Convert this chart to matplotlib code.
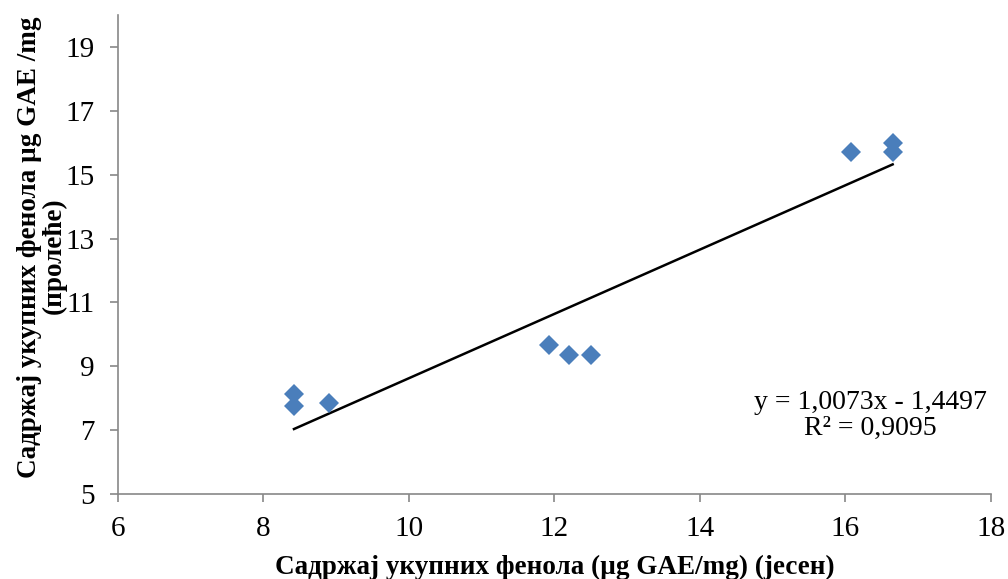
import matplotlib.pyplot as plt
import numpy as np

plt.rcParams['font.family'] = ['Liberation Serif', 'DejaVu Serif']

# total phenol content, autumn (x) vs spring (y)
autumn = np.array([8.42, 8.42, 8.9, 11.92, 12.2, 12.5, 16.08, 16.65, 16.65])
spring = np.array([8.12, 7.75, 7.85, 9.66, 9.35, 9.35, 15.71, 15.98, 15.70])

slope = 1.0073
intercept = -1.4497
r2 = 0.9095

x_ticks = [6, 8, 10, 12, 14, 16, 18]
y_ticks = [5, 7, 9, 11, 13, 15, 17, 19]

fig = plt.figure(figsize=(10.08, 5.79), dpi=100)
ax = fig.add_axes([0.117, 0.147, 0.866, 0.827])

ax.plot(autumn, spring, 'D', color='#4A7EBB', markersize=10, markeredgewidth=0, zorder=3)

# linear trend line across the data range
xt = np.array([autumn.min(), autumn.max()])
ax.plot(xt, slope * xt + intercept, color='black', linewidth=1.8, zorder=2)

ax.text(16.34, 7.47, 'y = 1,0073x - 1,4497\nR² = ' + f'{r2:.4f}'.replace('.', ','),
        ha='center', va='center', fontsize=20, linespacing=1.05)

ax.set_xlim(6, 18)
ax.set_ylim(5, 20)
ax.set_xticks(x_ticks)
ax.set_yticks(y_ticks)
ax.tick_params(labelsize=21, color='#888888', length=6, width=1.2)
ax.tick_params(axis='x', pad=10)
ax.tick_params(axis='y', pad=11)

for side in ['top', 'right']:
    ax.spines[side].set_visible(False)
for side in ['left', 'bottom']:
    ax.spines[side].set_color('#888888')
    ax.spines[side].set_linewidth(1.2)

ax.set_xlabel('Садржај укупних фенола (µg GAE/mg) (јесен)', fontsize=19.5, fontweight='bold', labelpad=9)

# two-line y title, each line placed on its own
ylab = dict(rotation=90, ha='center', va='center', fontsize=19.5, fontweight='bold')
fig.text(0.029, 0.573, 'Садржај укупних фенола µg GAE /mg', **ylab)
fig.text(0.054, 0.558, '(пролеће)', **ylab)

fig.savefig('out.png', dpi=100)
